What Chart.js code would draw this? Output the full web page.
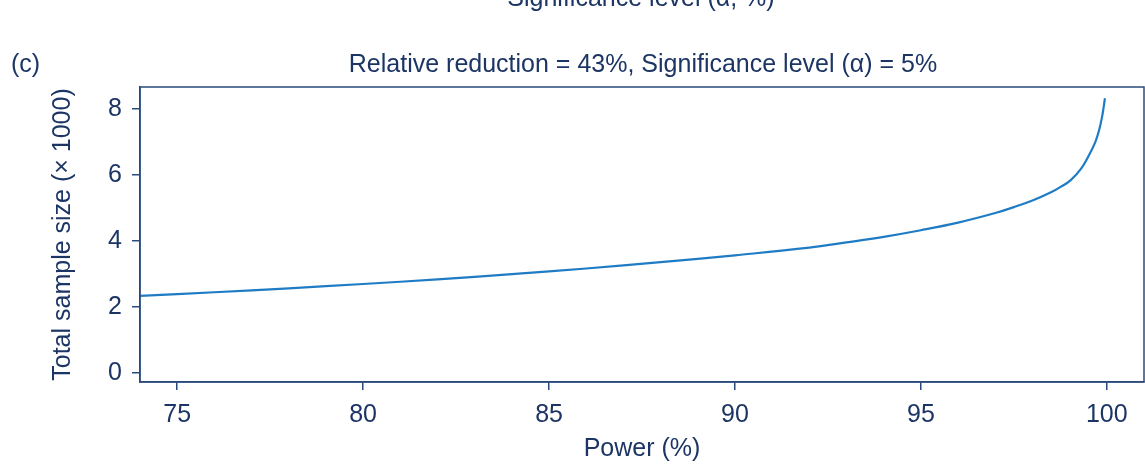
<!DOCTYPE html>
<html>
<head>
<meta charset="utf-8">
<script src="https://cdn.jsdelivr.net/npm/chart.js@4.4.1/dist/chart.umd.min.js"></script>
<style>
  html, body { margin: 0; padding: 0; background: #fff; }
  #wrap { width: 1145px; height: 469px; position: relative; }
</style>
</head>
<body>
<div id="wrap"><canvas id="chart"></canvas></div>
<script>
// power (%) and total sample size (x 1000)
const power = [74, 76, 78, 80, 82, 84, 86, 88, 90, 92, 93, 94, 95, 96, 97, 97.5, 98, 98.5, 98.77, 99.03, 99.3, 99.52, 99.69, 99.79, 99.87, 99.92, 99.95];
const sampleSize = [2.34, 2.45, 2.57, 2.7, 2.84, 3.0, 3.17, 3.36, 3.57, 3.8, 3.96, 4.13, 4.33, 4.56, 4.85, 5.03, 5.23, 5.48, 5.65, 5.85, 6.18, 6.6, 7.0, 7.35, 7.75, 8.1, 8.33];
const xTicks = [75, 80, 85, 90, 95, 100];
const yTicks = [0, 2, 4, 6, 8];

const axisColor = '#2a4a7c';
const textColor = '#1c3564';
const fontFamily = '"Liberation Sans", Arial, Helvetica, sans-serif';

Chart.defaults.font.family = fontFamily;
Chart.defaults.font.size = 25;
Chart.defaults.color = textColor;

// frame around plot + panel label + titles
const decorations = {
    id: 'decorations',
    afterDraw(chart) {
        const ctx = chart.ctx;
        const a = chart.chartArea;
        ctx.save();
        ctx.strokeStyle = axisColor;
        ctx.lineWidth = 1.5;
        ctx.strokeRect(a.left, a.top, a.right - a.left, a.bottom - a.top);

        ctx.fillStyle = textColor;
        ctx.font = '25px ' + fontFamily;
        ctx.textBaseline = 'alphabetic';
        ctx.textAlign = 'left';
        ctx.fillText('(c)', 11, 72);

        ctx.textAlign = 'center';
        ctx.fillText('Relative reduction = 43%, Significance level (\u03b1) = 5%', 643, 72);
        // previous panel's axis title, cut off at the top
        ctx.fillText('Significance level (\u03b1, %)', 641, 6);
        ctx.restore();
    }
};

new Chart(document.getElementById('chart'), {
    type: 'line',
    data: {
        datasets: [{
            data: power.map((p, i) => ({ x: p, y: sampleSize[i] })),
            borderColor: '#1f7cc4',
            borderWidth: 2.2,
            pointRadius: 0,
            tension: 0.4,
            fill: false
        }]
    },
    options: {
        responsive: true,
        maintainAspectRatio: false,
        animation: false,
        layout: { padding: { top: 87, right: 1, left: 0, bottom: 0 } },
        plugins: {
            legend: { display: false },
            tooltip: { enabled: false }
        },
        scales: {
            x: {
                type: 'linear',
                min: 74,
                max: 101,
                afterBuildTicks: (s) => { s.ticks = xTicks.map(v => ({ value: v })); },
                afterFit: (s) => { s.height = 87; },
                grid: { drawOnChartArea: false, tickLength: 8, color: axisColor, lineWidth: 1.5 },
                border: { display: true, color: axisColor, width: 1.5 },
                ticks: { padding: 10, color: textColor, maxRotation: 0 },
                title: { display: true, text: 'Power (%)', color: textColor, padding: { top: 0, bottom: 5 } }
            },
            y: {
                min: -0.27,
                max: 8.67,
                afterBuildTicks: (s) => { s.ticks = yTicks.map(v => ({ value: v })); },
                afterFit: (s) => { s.width = 140; },
                grid: { drawOnChartArea: false, tickLength: 8, color: axisColor, lineWidth: 1.5 },
                border: { display: true, color: axisColor, width: 1.5 },
                ticks: { padding: 10, color: textColor },
                title: { display: true, text: 'Total sample size (\u00d7 1000)', color: textColor, padding: { top: 48, bottom: 0 } }
            }
        }
    },
    plugins: [decorations]
});
</script>
</body>
</html>
